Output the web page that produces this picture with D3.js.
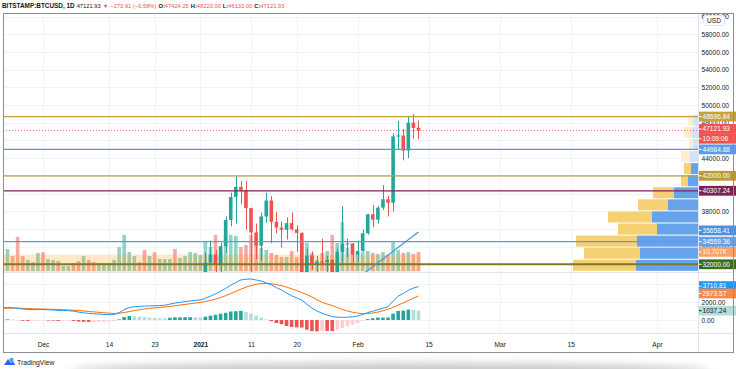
<!DOCTYPE html>
<html>
<head>
<meta charset="utf-8">
<script src="https://cdn.jsdelivr.net/npm/d3@7"></script>
<style>
  body { margin: 0; background: #fff; }
  svg { display: block; font-family: "Liberation Sans", Arial, sans-serif; }
</style>
</head>
<body>
<svg id="chart" width="736" height="369"></svg>
<script>
// ---- data ----
const firstDay = '2020-11-23'
const lastDay = '2021-02-13'

const opens = [18400,18370,19150,18730,17150,17120,17720,18180,19700,18780,19220,19450,18670,19150,19370,19180,18330,18550,18250,18040,
  18800,19170,19270,19440,21350,22800,23120,23860,23480,22730,23820,23250,23720,24700,26480,26270,27070,27380,28880,28990,
  29400,32200,33100,32000,34050,37000,39600,40750,40350,38350,35600,34100,37400,39200,36800,36150,35900,36650,35950,35550,
  30850,33000,32100,32300,32250,32500,30400,33400,34300,34350,33100,33500,35500,37650,37050,38400,39350,38950,46450,46550,
  44850,48000,47424.25]
const highs = [18780,19400,19480,18900,17450,17850,18350,19850,19920,19330,19570,19520,19180,19420,19420,19300,18640,18570,18280,18950,
  19410,19350,19570,21560,23800,23280,24170,24290,24100,23850,24150,23780,24790,26870,28380,27480,27390,28990,29320,29680,
  33300,34700,33600,34450,37400,40100,41950,41450,41400,38400,36600,37850,40100,39700,37900,36850,37300,37850,36400,35600,
  33800,33450,32950,34900,32950,32600,33800,38600,34900,34400,34700,35950,37700,38700,38600,40950,39750,46800,48200,47300,
  48650,48950,48220]
const lows = [18000,18030,18600,16200,16500,16880,17550,18180,18320,18350,18920,18570,18510,18880,18900,18240,17650,17920,17570,18020,
  18710,19000,19060,19300,21230,22350,22770,23080,21900,22380,22700,22700,23450,24500,25850,26100,25850,27320,27980,28650,
  29000,32000,28100,29900,33300,36300,36600,38800,35900,30400,32550,32400,36700,34400,35500,33900,34800,35800,33400,30100,
  28900,31400,30900,31900,30800,29200,29900,31950,32800,32200,32300,33400,35350,36200,36600,38150,37400,37950,45000,43750,
  44000,46200,46133]
const closes = [18370,19150,18730,17150,17120,17720,18180,19700,18780,19220,19450,18670,19150,19370,19180,18330,18550,18250,18040,18800,
  19170,19270,19440,21350,22800,23120,23860,23480,22730,23820,23250,23720,24700,26480,26270,27070,27380,28880,28990,29400,
  32200,33100,32000,34050,37000,39600,40750,40350,38350,35600,34100,37400,39200,36800,36150,35900,36650,35950,35550,30850,
  33000,32100,32300,32250,32500,30400,33400,34300,34350,33100,33500,35500,37650,37050,38400,39350,38950,46450,46550,44850,
  48000,47395.84,47121.93]
const volumes = [9000,12300,8400,19000,8400,6200,5000,10100,10600,6700,6200,5600,2800,2800,4500,5600,8400,6200,5000,4500,
  4500,4500,6200,13400,20200,10600,8400,5000,11800,8400,10600,6700,6700,6700,12300,7300,8400,10600,10100,9000,
  16200,13400,20200,11800,20700,20200,19600,13400,14600,20200,14600,12900,11800,10100,9000,7800,7800,11200,7800,15700,
  15700,10100,6200,10100,11200,20200,15700,27400,12900,10600,9500,10600,11200,10100,9500,10600,9000,16800,11800,10100,
  10600,9500,10707]

// MACD (12, 26, close, 9)
const macdLine = [1350,1380,1370,1300,1220,1180,1150,1160,1170,1140,1120,1060,1050,1040,980,880,800,740,690,650,
  620,590,600,820,1150,1380,1480,1520,1540,1560,1580,1600,1640,1760,1880,1960,2040,2120,2180,2230,
  2420,2650,2900,3200,3500,3880,4150,4450,4530,4555,4450,4330,4130,3900,3600,3350,3000,2700,2450,2220,
  1750,1320,1000,750,550,380,320,300,310,360,440,620,820,980,1150,1300,1480,2100,2650,2950,
  3300,3550,3710.81]
const signalLine = [1300,1310,1320,1315,1300,1280,1250,1230,1220,1200,1185,1160,1140,1120,1090,1050,1000,950,900,850,
  800,760,730,750,830,940,1050,1140,1220,1290,1350,1400,1450,1510,1580,1660,1730,1810,1880,1950,
  2050,2170,2320,2500,2700,2940,3180,3430,3650,3830,3960,4040,4060,4030,3940,3820,3660,3470,3270,3060,
  2830,2560,2260,1960,1770,1610,1390,1180,1000,860,760,700,720,780,880,1030,1200,1400,1650,1900,
  2150,2420,2673.57]

// visible range volume profile (rows of 1365 USD)
const profileLows = [31205,32570,33935,35300,36665,38030,39395,40760,42125,43490,44855,46220,47585]
const profileStep = 1365
const profileUp = [124,116,122,82,92,60,48,20,14,16,10,12,10]
const profileDown = [126,112,122,78,88,60,42,14,14,18,8,16,10]
const valueAreaHigh = 43490

// drawings
const levelPrices = [48696.84, 44984.88, 42000.00, 40307.24, 34559.36, 32000.00]
const trendDates = ['2021-01-28', '2021-02-13']
const trendPrices = [28680, 35658.41]
const zoneDates = ['2020-11-15', '2021-02-13']
const zonePrices = [31000, 33100]
const countdown = '10:09:06'

// axis ticks
const priceTicks = d3.range(32000, 60001, 2000)
const macdTicks = [0, 2000, 4000]
const timeTicks = ['2020-12-01','2020-12-14','2020-12-23','2021-01-01','2021-01-11','2021-01-20','2021-02-01','2021-02-15','2021-03-01','2021-03-15','2021-04-01']
const timeLabels = ['Dec','14','23','2021','11','20','Feb','15','Mar','15','Apr']

// ---- styles ----
const UP = '#26a69a', DOWN = '#ef5350'
const levelColors = ['#c2a23e', '#5b93e3', '#bd9d37', '#7b2452', '#6394e0', '#7c7a26']
const levelLabelColors = ['#c4a23f', '#5d9ae6', '#b99a36', '#7b2452', '#6a9ee6', '#3d6b21']
const fontSize = 6.6

// ---- layout ----
const left = 3, axisX = 698, right = 734
const mainTop = 13, mainBottom = 272, macdBottom = 333, frameBottom = 352

const parse = d3.utcParse('%Y-%m-%d')
const dates = d3.utcDay.range(parse(firstDay), d3.utcDay.offset(parse(lastDay), 1))
const bars = dates.map((d, i) => ({
  date: d, o: opens[i], h: highs[i], l: lows[i], c: closes[i], v: volumes[i],
  macd: macdLine[i], sig: signalLine[i], hist: macdLine[i] - signalLine[i]
}))

const dec1 = parse('2020-12-01').getTime()
const DAY = 864e5
const x = d3.scaleUtc()
  .domain([new Date(dec1 - 7.883 * DAY), new Date(dec1 + 129.09 * DAY)])
  .range([left, axisX])
const y = d3.scaleLinear().domain([32000, 60000]).range([264.3, 16.5])
const yVol = d3.scaleLinear().domain([0, 30000]).range([271, 271 - 30000 / 560])
const yMacd = d3.scaleLinear().domain([0, 4000]).range([320, 284])
const profW = d3.scaleLinear().domain([0, 250]).range([0, 125])

const svg = d3.select('#chart')
const defs = svg.append('defs')
defs.append('clipPath').attr('id', 'clipMain').append('rect')
  .attr('x', left).attr('y', mainTop).attr('width', axisX - left).attr('height', mainBottom - mainTop)
defs.append('clipPath').attr('id', 'clipMacd').append('rect')
  .attr('x', left).attr('y', mainBottom).attr('width', axisX - left).attr('height', macdBottom - mainBottom)
defs.append('filter').attr('id', 'blur').attr('x', '-20%').attr('y', '-200%').attr('width', '140%').attr('height', '500%')
  .append('feGaussianBlur').attr('stdDeviation', 4)

// bottom shadow
svg.append('ellipse').attr('cx', 390).attr('cy', 371).attr('rx', 320).attr('ry', 8)
  .attr('fill', '#9a9a9a').attr('opacity', 0.55).attr('filter', 'url(#blur)')

// ---- header ----
const last = bars[bars.length - 1], prev = bars[bars.length - 2]
const chg = last.c - prev.c, pct = chg / prev.c * 100
const f2 = d3.format('.2f')
const minus = s => s.replace('-', '−')
const hdr = svg.append('text').attr('x', 2).attr('y', 8.3).attr('font-size', 5.75).attr('fill', '#131722')
hdr.append('tspan').attr('font-weight', 'bold').attr('font-size', 6.4).text('BITSTAMP:BTCUSD, 1D')
hdr.append('tspan').attr('dx', 2).text(f2(last.c))
hdr.append('tspan').attr('dx', 2).attr('fill', DOWN).text('▼')
hdr.append('tspan').attr('dx', 2).attr('fill', DOWN).text(minus(f2(chg)) + ' (' + minus(f2(pct)) + '%)')
;[['O:', last.o], ['H:', last.h], ['L:', last.l], ['C:', last.c]].forEach(([k, v]) => {
  hdr.append('tspan').attr('dx', 2).attr('font-weight', 'bold').text(k)
  hdr.append('tspan').attr('fill', DOWN).text(f2(v))
})

// ---- grid ----
const grid = svg.append('g').attr('stroke', '#f0f3fa').attr('stroke-width', 1)
timeTicks.forEach(t => {
  const xx = Math.round(x(parse(t))) + 0.5
  grid.append('line').attr('x1', xx).attr('x2', xx).attr('y1', mainTop).attr('y2', macdBottom)
})
priceTicks.forEach(p => {
  const yy = Math.round(y(p)) + 0.5
  grid.append('line').attr('x1', left).attr('x2', axisX).attr('y1', yy).attr('y2', yy)
})
macdTicks.forEach(p => {
  const yy = Math.round(yMacd(p)) + 0.5
  grid.append('line').attr('x1', left).attr('x2', axisX).attr('y1', yy).attr('y2', yy)
})

// ---- main pane ----
const main = svg.append('g').attr('clip-path', 'url(#clipMain)')
const bw = 3.6

// volume
main.append('g').selectAll('rect').data(bars).join('rect')
  .attr('x', d => x(d.date) - bw / 2).attr('width', bw)
  .attr('y', d => yVol(d.v)).attr('height', d => yVol(0) - yVol(d.v))
  .attr('fill', d => d.c >= d.o ? 'rgba(38,166,154,0.5)' : 'rgba(239,83,80,0.5)')

// zone rectangle
main.append('rect')
  .attr('x', x(parse(zoneDates[0]))).attr('width', x(parse(zoneDates[1])) - x(parse(zoneDates[0])) + 2)
  .attr('y', y(zonePrices[1])).attr('height', y(zonePrices[0]) - y(zonePrices[1]))
  .attr('fill', 'rgba(255,152,0,0.22)')

// volume profile
const prof = main.append('g')
profileLows.forEach((lo, i) => {
  const inVA = lo < valueAreaHigh
  const yTop = y(lo + profileStep) + 0.5, hh = y(lo) - y(lo + profileStep) - 1
  const wUp = profW(profileUp[i]), wDn = profW(profileDown[i])
  prof.append('rect').attr('x', axisX - wUp).attr('width', wUp).attr('y', yTop).attr('height', hh)
    .attr('fill', inVA ? '#66a3ea' : '#d3e4f9')
  prof.append('rect').attr('x', axisX - wUp - wDn).attr('width', wDn).attr('y', yTop).attr('height', hh)
    .attr('fill', inVA ? '#f5d174' : '#fcefc9')
})

// candles
const cg = main.append('g').selectAll('g').data(bars).join('g')
  .attr('stroke', d => d.c >= d.o ? UP : DOWN).attr('fill', d => d.c >= d.o ? UP : DOWN)
cg.append('line')
  .attr('x1', d => Math.round(x(d.date)) + 0.5).attr('x2', d => Math.round(x(d.date)) + 0.5)
  .attr('y1', d => y(d.h)).attr('y2', d => y(d.l))
cg.append('rect').attr('stroke', 'none')
  .attr('x', d => x(d.date) - bw / 2).attr('width', bw)
  .attr('y', d => y(Math.max(d.o, d.c)))
  .attr('height', d => Math.max(1, Math.abs(y(d.o) - y(d.c))))

// horizontal levels
levelPrices.forEach((p, i) => {
  main.append('line').attr('x1', left).attr('x2', axisX)
    .attr('y1', y(p)).attr('y2', y(p))
    .attr('stroke', levelColors[i]).attr('stroke-width', p === 32000 ? 2 : 1.2)
})
// last price line
main.append('line').attr('x1', left).attr('x2', axisX)
  .attr('y1', Math.round(y(last.c)) + 0.5).attr('y2', Math.round(y(last.c)) + 0.5)
  .attr('stroke', DOWN).attr('stroke-width', 1).attr('stroke-dasharray', '1,2').attr('opacity', 0.8)
// trend line
main.append('line')
  .attr('x1', x(parse(trendDates[0]))).attr('y1', y(trendPrices[0]))
  .attr('x2', x(parse(trendDates[1]))).attr('y2', y(trendPrices[1]))
  .attr('stroke', '#4a8fe3').attr('stroke-width', 1.2)

// ---- MACD pane ----
const mg = svg.append('g').attr('clip-path', 'url(#clipMacd)')
mg.append('g').selectAll('rect').data(bars).join('rect')
  .attr('x', d => x(d.date) - bw / 2).attr('width', bw)
  .attr('y', d => yMacd(Math.max(0, d.hist)))
  .attr('height', d => Math.abs(yMacd(d.hist) - yMacd(0)))
  .attr('fill', (d, i) => {
    const p = i > 0 ? bars[i - 1].hist : d.hist
    if (d.hist >= 0) return d.hist >= p ? '#26a69a' : '#b2dfdb'
    return d.hist < p ? '#ef5350' : '#ffcdd2'
  })
const lineGen = key => d3.line().x(d => x(d.date)).y(d => yMacd(d[key]))
mg.append('path').datum(bars).attr('d', lineGen('sig')).attr('fill', 'none').attr('stroke', '#ff6d00').attr('stroke-width', 1)
mg.append('path').datum(bars).attr('d', lineGen('macd')).attr('fill', 'none').attr('stroke', '#2196f3').attr('stroke-width', 1)

// ---- separators ----
const sep = svg.append('g').attr('stroke', '#e0e3eb').attr('stroke-width', 1)
sep.append('line').attr('x1', left).attr('x2', right).attr('y1', mainBottom + 0.5).attr('y2', mainBottom + 0.5)
sep.append('line').attr('x1', left).attr('x2', right).attr('y1', macdBottom + 0.5).attr('y2', macdBottom + 0.5)
sep.append('line').attr('x1', axisX + 0.5).attr('x2', axisX + 0.5).attr('y1', mainTop).attr('y2', frameBottom)

// ---- price-scale labels (positions) ----
const labels = [
  { yy: y(levelPrices[0]), bg: levelLabelColors[0], t: f2(levelPrices[0]) },
  { yy: y(last.c) - 1.5, bg: DOWN, t: f2(last.c) },
  { yy: y(last.c) + 8.3, bg: DOWN, t: countdown },
  { yy: y(levelPrices[1]), bg: levelLabelColors[1], t: f2(levelPrices[1]) },
  { yy: y(levelPrices[2]), bg: levelLabelColors[2], t: f2(levelPrices[2]) },
  { yy: y(levelPrices[3]), bg: levelLabelColors[3], t: f2(levelPrices[3]) },
  { yy: y(trendPrices[1]) - 1.5, bg: '#4d8fe3', t: f2(trendPrices[1]) },
  { yy: y(levelPrices[4]), bg: levelLabelColors[4], t: f2(levelPrices[4]) },
  { yy: yVol(last.v), bg: '#f4a36b', t: (last.v / 1000).toFixed(3) + 'K' },
  { yy: y(levelPrices[5]), bg: levelLabelColors[5], t: f2(levelPrices[5]) },
  { yy: yMacd(last.macd) - 0.5, bg: '#2196f3', t: f2(last.macd) },
  { yy: yMacd(last.sig) - 2.5, bg: '#f7894a', t: f2(last.sig) },
  { yy: yMacd(last.hist), bg: '#b2dfdb', t: f2(last.hist), fg: '#131722' }
]
// a tick label that sits right under a coloured label is hidden by it
const covered = yy => labels.some(l => Math.abs(l.yy - yy) < 4.5)

// ---- axes ----
const styleAxis = g => {
  g.select('.domain').remove()
  g.selectAll('text').attr('font-size', fontSize).attr('fill', '#131722').attr('font-family', '"Liberation Sans", Arial, sans-serif')
}
svg.append('g').attr('transform', `translate(${axisX},0)`)
  .call(d3.axisRight(y).tickValues(priceTicks.filter(p => !covered(y(p)))).tickFormat(f2).tickSize(0).tickPadding(3.5))
  .call(styleAxis)
svg.append('g').attr('transform', `translate(${axisX},0)`)
  .call(d3.axisRight(yMacd).tickValues(macdTicks.filter(p => !covered(yMacd(p)))).tickFormat(f2).tickSize(0).tickPadding(3.5))
  .call(styleAxis)
svg.append('g').attr('transform', `translate(0,${macdBottom + 5})`)
  .call(d3.axisBottom(x).tickValues(timeTicks.map(parse)).tickFormat((d, i) => timeLabels[i]).tickSize(0).tickPadding(4))
  .call(styleAxis)
  .selectAll('text').attr('font-weight', (d, i) => timeLabels[i] === '2021' ? 'bold' : null)

// USD box
svg.append('rect').attr('x', 703.5).attr('y', 15.5).attr('width', 21).attr('height', 10).attr('rx', 2)
  .attr('fill', '#fff').attr('stroke', '#e0e3eb')
svg.append('text').attr('x', 714).attr('y', 20.5).attr('dy', '0.35em').attr('text-anchor', 'middle')
  .attr('font-size', fontSize).attr('fill', '#131722').text('USD')

const lg = svg.append('g').selectAll('g').data(labels).join('g')
  .attr('transform', d => `translate(${axisX + 1},${d.yy})`)
lg.append('rect').attr('x', 0).attr('y', -4.9).attr('width', right - axisX + 2).attr('height', 9.8).attr('fill', d => d.bg)
lg.append('line').attr('x1', 0).attr('x2', 2.5).attr('y1', 0).attr('y2', 0).attr('stroke', d => d.fg || '#fff')
lg.append('text').attr('x', 3.5).attr('dy', '0.35em').attr('font-size', fontSize)
  .attr('fill', d => d.fg || '#fff').text(d => d.t)

// ---- frame ----
svg.append('rect').attr('x', left + 0.5).attr('y', mainTop + 0.5)
  .attr('width', right - left - 1).attr('height', frameBottom - mainTop)
  .attr('fill', 'none').attr('stroke', '#8a8e97').attr('stroke-width', 1)

// ---- TradingView mark ----
const logo = svg.append('g').attr('transform', 'translate(4,357)')
logo.append('path').attr('d', 'M0,8 L4,2 L7,6 L9,4 L11,8 Z').attr('fill', '#2962ff')
logo.append('circle').attr('cx', 7.5).attr('cy', 3).attr('r', 2.2).attr('fill', '#4fa3f7')
svg.append('text').attr('x', 17).attr('y', 365).attr('font-size', 6.8).attr('fill', '#131722').text('TradingView')
</script>
</body>
</html>
